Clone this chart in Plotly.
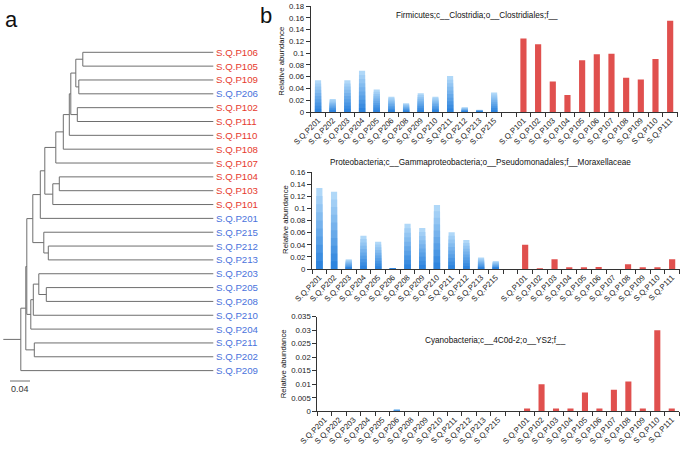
import plotly.graph_objects as go

# ---------------- data ----------------
blue_samples = ["S.Q.P201", "S.Q.P202", "S.Q.P203", "S.Q.P204", "S.Q.P205", "S.Q.P206", "S.Q.P208",
                "S.Q.P209", "S.Q.P210", "S.Q.P211", "S.Q.P212", "S.Q.P213", "S.Q.P215"]
red_samples = ["S.Q.P101", "S.Q.P102", "S.Q.P103", "S.Q.P104", "S.Q.P105", "S.Q.P106", "S.Q.P107",
               "S.Q.P108", "S.Q.P109", "S.Q.P110", "S.Q.P111"]
gap_category = [" "]

firmicutes_blue = [0.054, 0.022, 0.054, 0.070, 0.038, 0.026, 0.015, 0.032, 0.026, 0.061, 0.008, 0.004, 0.033]
firmicutes_red = [0.125, 0.115, 0.052, 0.029, 0.088, 0.098, 0.099, 0.058, 0.055, 0.090, 0.155]
proteo_blue = [0.134, 0.128, 0.016, 0.055, 0.045, 0.001, 0.075, 0.068, 0.106, 0.061, 0.048, 0.019, 0.013]
proteo_red = [0.040, 0.001, 0.016, 0.003, 0.002, 0.0035, 0.0, 0.008, 0.003, 0.002, 0.016]
cyano_blue = [0, 0, 0, 0, 0, 0.0004, 0, 0, 0, 0, 0, 0, 0]
cyano_red = [0.001, 0.010, 0.001, 0.001, 0.007, 0.001, 0.008, 0.011, 0.001, 0.030, 0.001]

titles = ["Firmicutes;c__Clostridia;o__Clostridiales;f__",
          "Proteobacteria;c__Gammaproteobacteria;o__Pseudomonadales;f__Moraxellaceae",
          "Cyanobacteria;c__4C0d-2;o__YS2;f__"]

yticks_top = [0, 0.02, 0.04, 0.06, 0.08, 0.1, 0.12, 0.14, 0.16, 0.18]
yticks_mid = [0, 0.02, 0.04, 0.06, 0.08, 0.1, 0.12, 0.14, 0.16]
yticks_bot = [0, 0.005, 0.01, 0.015, 0.02, 0.025, 0.03, 0.035]
yticktext_top = ["0", "0.02", "0.04", "0.06", "0.08", "0.1", "0.12", "0.14", "0.16", "0.18"]
yticktext_mid = ["0", "0.02", "0.04", "0.06", "0.08", "0.1", "0.12", "0.14", "0.16"]
yticktext_bot = ["0", "0.005", "0.01", "0.015", "0.02", "0.025", "0.03", "0.035"]

# dendrogram (depth measured from the root stub)
leaf_order = ["S.Q.P106", "S.Q.P105", "S.Q.P109", "S.Q.P206", "S.Q.P102", "S.Q.P111", "S.Q.P110",
              "S.Q.P108", "S.Q.P107", "S.Q.P104", "S.Q.P103", "S.Q.P101", "S.Q.P201", "S.Q.P215",
              "S.Q.P212", "S.Q.P213", "S.Q.P203", "S.Q.P205", "S.Q.P208", "S.Q.P210", "S.Q.P204",
              "S.Q.P211", "S.Q.P202", "S.Q.P209"]
leaf_depth = 0.420
merge_a = ["S.Q.P106", "S.Q.P109", "n1", "S.Q.P102", "n3", "n5", "n6", "n7", "S.Q.P104", "n9",
           "n8", "n11", "S.Q.P212", "S.Q.P215", "n12", "S.Q.P205", "S.Q.P203", "n17", "n18",
           "n15", "S.Q.P211", "n20", "n22"]
merge_b = ["S.Q.P105", "S.Q.P206", "n2", "S.Q.P111", "n4", "S.Q.P110", "S.Q.P108", "S.Q.P107",
           "S.Q.P103", "S.Q.P101", "n10", "S.Q.P201", "S.Q.P213", "n13", "n14", "S.Q.P208", "n16",
           "S.Q.P210", "S.Q.P204", "n19", "S.Q.P202", "n21", "S.Q.P209"]
merge_depth = [0.159, 0.151, 0.145, 0.148, 0.135, 0.132, 0.120, 0.105, 0.112, 0.099, 0.083, 0.074,
               0.090, 0.081, 0.059, 0.086, 0.071, 0.060, 0.055, 0.047, 0.062, 0.045, 0.035]
scale_length = 0.04

# ---------------- styling ----------------
W, H = 685, 450
FONT = "Liberation Sans, Arial, sans-serif"
RED = "#e0504e"
RED_TXT = "#e63a2e"
BLUE_TXT = "#4a72dc"
LIGHT = (176, 216, 248)
DARK = (46, 132, 222)
categories = blue_samples + gap_category + red_samples


def px_x(p):
    return p / W


def px_y(p):
    return 1 - p / H


fig = go.Figure()

panels = [
    (firmicutes_blue, firmicutes_red, "x", "y"),
    (proteo_blue, proteo_red, "x2", "y2"),
    (cyano_blue, cyano_red, "x3", "y3"),
]
NL = 10
for blue_vals, red_vals, xa, ya in panels:
    for k in range(NL):
        f = (NL - k) / NL
        t = k / (NL - 1)
        col = "rgb(%d,%d,%d)" % tuple(int(LIGHT[i] + (DARK[i] - LIGHT[i]) * t) for i in range(3))
        fig.add_trace(go.Bar(x=blue_samples, y=[v * f for v in blue_vals], marker_color=col,
                             marker_line_width=0, xaxis=xa, yaxis=ya, showlegend=False,
                             hoverinfo="skip"))
    fig.add_trace(go.Bar(x=red_samples, y=red_vals, marker_color=RED, marker_line_width=0,
                         xaxis=xa, yaxis=ya, showlegend=False))

# dendrogram geometry
pos = {name: (leaf_depth, i) for i, name in enumerate(leaf_order)}
lx, ly = [], []
for i, (a, b, d) in enumerate(zip(merge_a, merge_b, merge_depth)):
    xa_, ya_ = pos[a]
    xb_, yb_ = pos[b]
    lx += [xa_, d, d, xb_, None]
    ly += [ya_, ya_, yb_, yb_, None]
    pos["n%d" % (i + 1)] = (d, (ya_ + yb_) / 2)
root_x, root_y = pos["n%d" % len(merge_depth)]
lx += [0, root_x, None]
ly += [root_y, root_y, None]
fig.add_trace(go.Scatter(x=lx, y=ly, mode="lines", line=dict(color="#6e6e6e", width=1),
                         xaxis="x4", yaxis="y4", showlegend=False, hoverinfo="skip"))
scale_start = 0.0134
scale_y = 23.75
fig.add_trace(go.Scatter(x=[scale_start, scale_start + scale_length], y=[scale_y, scale_y],
                         mode="lines", line=dict(color="#6e6e6e", width=1),
                         xaxis="x4", yaxis="y4", showlegend=False, hoverinfo="skip"))

annotations = []
for i, name in enumerate(leaf_order):
    annotations.append(dict(x=leaf_depth, y=i, xref="x4", yref="y4", text=name, showarrow=False,
                            xanchor="left", yanchor="middle", xshift=1,
                            font=dict(family=FONT, size=9.7,
                                      color=RED_TXT if name in red_samples else BLUE_TXT)))
annotations.append(dict(x=scale_start + scale_length / 2, y=scale_y + 0.55, xref="x4", yref="y4",
                        text="0.04", showarrow=False, xanchor="center", yanchor="middle",
                        font=dict(family=FONT, size=9, color="#333")))
annotations.append(dict(x=px_x(11.5), y=px_y(19), xref="paper", yref="paper", text="a",
                        showarrow=False, xanchor="center", yanchor="middle",
                        font=dict(family=FONT, size=22, color="#111")))
annotations.append(dict(x=px_x(266), y=px_y(15.5), xref="paper", yref="paper", text="b",
                        showarrow=False, xanchor="center", yanchor="middle",
                        font=dict(family=FONT, size=22, color="#111")))
for (tx, ty), t in zip([(476.7, 15.7), (480.5, 162.7), (495, 340.5)], titles):
    annotations.append(dict(x=px_x(tx), y=px_y(ty), xref="paper", yref="paper", text=t,
                            showarrow=False, xanchor="center", yanchor="middle",
                            font=dict(family=FONT, size=8.2, color="#111")))
for (tx, ty) in [(281.7, 61), (285, 220), (283.3, 364)]:
    annotations.append(dict(x=px_x(tx), y=px_y(ty), xref="paper", yref="paper",
                            text="Relative abundance", textangle=-90, showarrow=False,
                            xanchor="center", yanchor="middle",
                            font=dict(family=FONT, size=7.8, color="#111")))


def xaxis_cfg(x0, x1, anchor):
    return dict(domain=[px_x(x0), px_x(x1)], anchor=anchor, type="category",
                categoryorder="array", categoryarray=categories, range=[-0.5, len(categories) - 0.5],
                showline=True, linecolor="#333", linewidth=1, ticks="outside", ticklen=4,
                tickcolor="#333", tickson="boundaries", tickangle=-45, automargin=False,
                tickfont=dict(family=FONT, size=7.8, color="#222"), showgrid=False, zeroline=False,
                fixedrange=True)


def yaxis_cfg(p0, p1, anchor, rng, tv, tt):
    return dict(domain=[px_y(p0), px_y(p1)], anchor=anchor, range=rng, tickvals=tv, ticktext=tt,
                showline=True, linecolor="#333", linewidth=1, ticks="outside", ticklen=4,
                tickcolor="#333", tickfont=dict(family=FONT, size=7.8, color="#222"),
                automargin=False, showgrid=False, zeroline=False, fixedrange=True)


fig.update_layout(
    width=W, height=H, margin=dict(l=0, r=0, t=0, b=0, pad=0, autoexpand=False),
    paper_bgcolor="white", plot_bgcolor="rgba(0,0,0,0)",
    barmode="overlay", bargap=0.58, showlegend=False,
    xaxis=xaxis_cfg(310.7, 677.5, "y"),
    yaxis=yaxis_cfg(112, 6, "x", [0, 0.18], yticks_top, yticktext_top),
    xaxis2=xaxis_cfg(312, 679.5, "y2"),
    yaxis2=yaxis_cfg(269, 172.3, "x2", [0, 0.16], yticks_mid, yticktext_mid),
    xaxis3=xaxis_cfg(317.3, 679, "y3"),
    yaxis3=yaxis_cfg(411.3, 316.7, "x3", [0, 0.035], yticks_bot, yticktext_bot),
    xaxis4=dict(domain=[0, 0.35], anchor="y4", range=[-3.3 / 500, (0.35 * W - 3.3) / 500],
                visible=False, fixedrange=True, automargin=False),
    yaxis4=dict(domain=[0, 1], anchor="x4", range=[(H - 52.3) / 13.84, -52.3 / 13.84],
                visible=False, fixedrange=True, automargin=False),
    annotations=annotations,
)

fig.write_html("out.html", config={"displayModeBar": False},
               post_script="document.body.style.margin='0';document.body.style.overflow='hidden';")
